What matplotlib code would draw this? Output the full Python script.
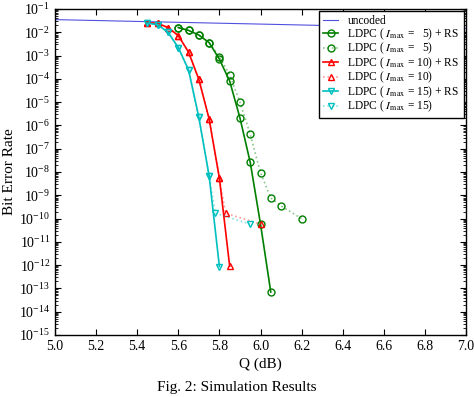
import matplotlib
matplotlib.use("Agg")
import matplotlib.pyplot as plt
from matplotlib.ticker import LogLocator, LogFormatterMathtext, MultipleLocator, NullFormatter, FormatStrFormatter

plt.rcParams['font.family'] = 'serif'
plt.rcParams['font.serif'] = ['Liberation Serif', 'DejaVu Serif']
plt.rcParams['mathtext.fontset'] = 'stix'

# Data
q_uncoded = [5.0, 5.5, 6.0, 6.5, 7.0]
ber_uncoded = [3.5e-2, 2.8e-2, 2.25e-2, 1.8e-2, 1.45e-2]

q_i5_rs = [5.60, 5.65, 5.70, 5.75, 5.80, 5.85, 5.90, 5.95, 6.00, 6.05]
ber_i5_rs = [1.6e-2, 1.2e-2, 7.6e-3, 3.6e-3, 7.0e-4, 8.0e-5, 2.1e-6, 2.6e-8, 5.8e-11, 7.0e-14]
q_i5 = [5.60, 5.65, 5.70, 5.75, 5.80, 5.85, 5.90, 5.95, 6.00, 6.05, 6.10, 6.20]
ber_i5 = [1.6e-2, 1.2e-2, 7.6e-3, 3.6e-3, 9.0e-4, 1.5e-4, 1.0e-5, 4.2e-7, 9.3e-9, 7.8e-10, 3.5e-10, 1.0e-10]

q_i10_rs = [5.45, 5.50, 5.55, 5.60, 5.65, 5.70, 5.75, 5.80, 5.85]
ber_i10_rs = [2.6e-2, 2.4e-2, 1.6e-2, 7.2e-3, 1.4e-3, 9.5e-5, 1.9e-6, 5.4e-9, 9.0e-13]
q_i10 = [5.45, 5.50, 5.55, 5.60, 5.65, 5.70, 5.75, 5.80, 5.83, 6.00]
ber_i10 = [2.6e-2, 2.4e-2, 1.6e-2, 7.2e-3, 1.4e-3, 9.5e-5, 1.9e-6, 5.4e-9, 1.7e-10, 5.8e-11]

q_i15_rs = [5.45, 5.50, 5.55, 5.60, 5.65, 5.70, 5.75, 5.80]
ber_i15_rs = [2.5e-2, 2.1e-2, 1.0e-2, 2.2e-3, 2.4e-4, 2.2e-6, 6.8e-9, 8.7e-13]
q_i15 = [5.45, 5.50, 5.55, 5.60, 5.65, 5.70, 5.75, 5.78, 5.95]
ber_i15 = [2.5e-2, 2.1e-2, 1.0e-2, 2.2e-3, 2.4e-4, 2.2e-6, 6.8e-9, 1.7e-10, 5.8e-11]

labels = ['uncoded',
          r'LDPC ( $I_{\rm max}$ =   5) + RS',
          r'LDPC ( $I_{\rm max}$ =   5)',
          r'LDPC ( $I_{\rm max}$ = 10) + RS',
          r'LDPC ( $I_{\rm max}$ = 10)',
          r'LDPC ( $I_{\rm max}$ = 15) + RS',
          r'LDPC ( $I_{\rm max}$ = 15)']

fig = plt.figure(figsize=(4.74, 3.97), dpi=100)
ax = fig.add_axes([55/474, 1-335/397, 411/474, 326/397])

green = '#007f00'
red = '#ff0000'
cyan = '#00bfbf'
ms = 5

ax.plot(q_uncoded, ber_uncoded, '-', color='#5050e0', lw=0.8, label=labels[0])
ax.plot(q_i5_rs, ber_i5_rs, '-', color=green, lw=1.2, marker='o', ms=ms, mfc='none', mec=green, mew=1.0, label=labels[1])
ax.plot(q_i5, ber_i5, ':', color=(0.0, 0.5, 0.0, 0.45), lw=1.2, marker='o', ms=ms, mfc='none', mec=green, mew=1.0, label=labels[2])
ax.plot(q_i10_rs, ber_i10_rs, '-', color=red, lw=1.2, marker='^', ms=ms, mfc='none', mec=red, mew=1.0, label=labels[3])
ax.plot(q_i10, ber_i10, ':', color=(1.0, 0.0, 0.0, 0.4), lw=1.2, marker='^', ms=ms, mfc='none', mec=red, mew=1.0, label=labels[4])
ax.plot(q_i15_rs, ber_i15_rs, '-', color=cyan, lw=1.2, marker='v', ms=ms, mfc='none', mec=cyan, mew=1.0, label=labels[5])
ax.plot(q_i15, ber_i15, ':', color=(0.0, 0.75, 0.75, 0.45), lw=1.2, marker='v', ms=ms, mfc='none', mec=cyan, mew=1.0, label=labels[6])

ax.set_yscale('log')
ax.set_xlim(5.0, 7.0)
ax.set_ylim(1e-15, 1e-1)
ax.xaxis.set_major_locator(MultipleLocator(0.2))
ax.xaxis.set_major_formatter(FormatStrFormatter('%.1f'))
ax.yaxis.set_major_locator(LogLocator(base=10, numticks=30))
ax.yaxis.set_major_formatter(LogFormatterMathtext())
ax.yaxis.set_minor_locator(LogLocator(base=10, subs=range(2, 10), numticks=30))
ax.yaxis.set_minor_formatter(NullFormatter())
ax.tick_params(which='both', direction='in', top=True, right=True, labelsize=10)
ax.tick_params(which='major', length=4, width=0.8)
ax.tick_params(which='minor', length=2, width=0.6)
for s in ax.spines.values():
    s.set_linewidth(1.0)

ax.set_xlabel('Q (dB)', fontsize=11, labelpad=3)
ax.set_ylabel('Bit Error Rate', fontsize=11, labelpad=2)

leg = ax.legend(loc='upper right', fontsize=8.3, frameon=True, fancybox=False,
                edgecolor='black', framealpha=1, borderaxespad=0.2,
                handlelength=1.3, handletextpad=0.8, labelspacing=-0.08,
                borderpad=0.35)
leg.get_frame().set_linewidth(1.0)

fig.text(0.5, 1-388/397, 'Fig. 2: Simulation Results', ha='center', va='center', fontsize=11)

fig.savefig('out.png', dpi=100)
